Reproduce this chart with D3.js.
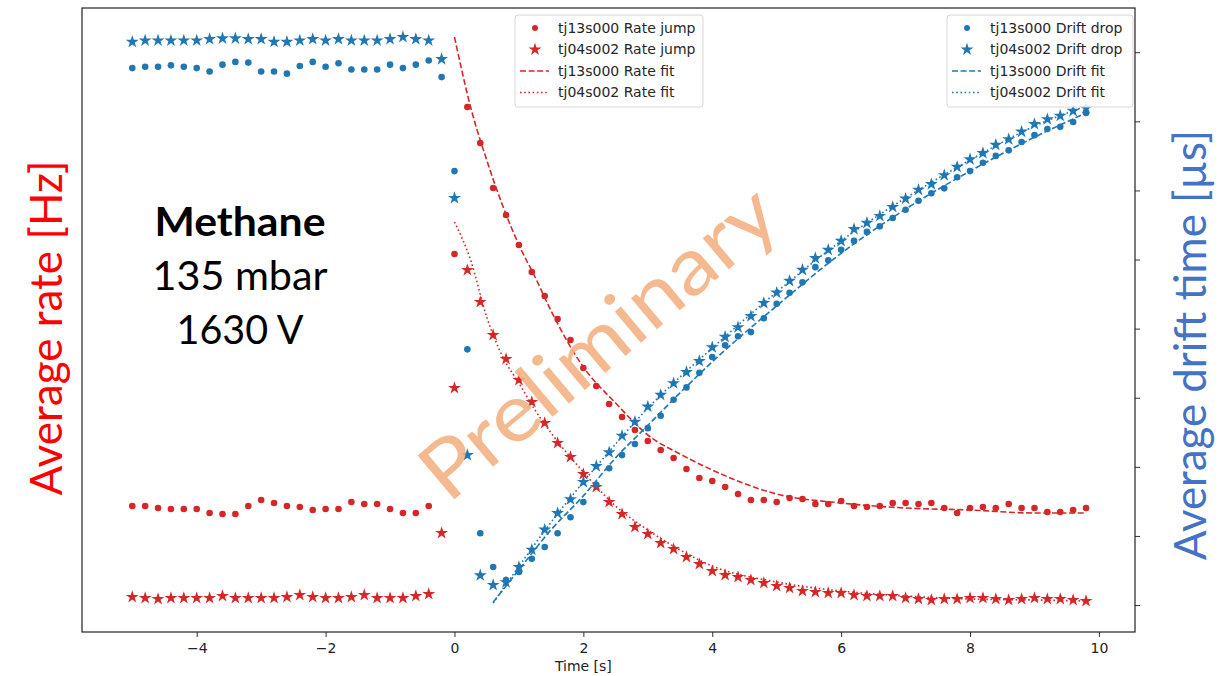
<!DOCTYPE html>
<html lang="en">
<head>
<meta charset="UTF-8">
<title>Rate jump and drift drop</title>
<script src="https://d3js.org/d3.v7.min.js"></script>
<style>
  body { margin: 0; background: #fff; }
  svg { display: block; }
  .axis text { font-family: "DejaVu Sans", sans-serif; font-size: 14px; fill: #222; }
  .legend text { font-family: "DejaVu Sans", sans-serif; font-size: 14px; fill: #262626; }
  .slide { font-family: Lato, "Open Sans", sans-serif; }
</style>
</head>
<body>
<svg id="chart" width="1227" height="676"></svg>
<script>
// frame times [s]
const time = [-5.0,-4.8,-4.6,-4.4,-4.2,-4.0,-3.8,-3.6,-3.4,-3.2,-3.0,-2.8,-2.6,-2.4,-2.2,-2.0,-1.8,-1.6,-1.4,-1.2,-1.0,-0.8,-0.6,-0.4,-0.2,
  0.0,0.2,0.4,0.6,0.8,1.0,1.2,1.4,1.6,1.8,2.0,2.2,2.4,2.6,2.8,3.0,3.2,3.4,3.6,3.8,4.0,4.2,4.4,4.6,4.8,
  5.0,5.2,5.4,5.6,5.8,6.0,6.2,6.4,6.6,6.8,7.0,7.2,7.4,7.6,7.8,8.0,8.2,8.4,8.6,8.8,9.0,9.2,9.4,9.6,9.8];

// average rate [Hz]
const rateTj13 = [12.6,12.6,12.4,12.3,12.3,12.3,11.9,11.8,11.8,12.6,13.2,12.9,12.6,12.5,12.2,12.3,12.3,13.0,12.8,12.8,12.3,11.9,11.9,12.6,null,
  37.8,52.5,48.9,44.4,41.7,38.7,36.0,33.6,31.3,29.2,26.4,24.6,22.8,21.5,20.2,19.1,18.2,17.4,16.3,15.4,15.1,14.5,13.8,13.2,13.2,
  13.0,13.4,13.3,12.8,12.8,13.1,12.6,12.5,12.6,12.9,12.9,12.8,12.9,12.4,11.9,12.4,12.5,12.4,12.8,12.4,12.4,12.0,12.0,12.2,12.4];
const rateTj04 = [3.5,3.4,3.3,3.4,3.4,3.4,3.4,3.6,3.4,3.4,3.4,3.4,3.5,3.7,3.5,3.4,3.4,3.5,3.7,3.4,3.4,3.4,3.6,3.8,9.9,
  24.4,36.2,33.0,29.7,27.3,25.2,23.0,20.9,18.9,17.5,15.8,14.5,13.0,11.8,10.5,9.8,8.9,8.3,7.5,6.8,6.1,5.7,5.5,5.2,4.9,
  4.6,4.4,4.1,4.0,3.9,3.9,3.7,3.6,3.6,3.6,3.4,3.3,3.2,3.3,3.3,3.4,3.4,3.3,3.2,3.3,3.4,3.3,3.3,3.2,3.1];

// average drift time [us]
const driftTj13 = [8.77,8.79,8.79,8.81,8.79,8.77,8.72,8.82,8.86,8.85,8.72,8.72,8.69,8.80,8.86,8.79,8.84,8.75,8.75,8.75,8.82,8.77,8.82,8.88,8.64,
  7.28,4.70,2.04,1.55,1.36,1.48,1.67,1.84,2.04,2.27,2.49,2.74,2.98,3.17,3.33,3.56,3.74,3.97,4.15,4.36,4.59,4.76,4.89,4.95,5.15,
  5.36,5.52,5.67,5.89,5.99,6.14,6.27,6.40,6.48,6.60,6.72,6.85,6.96,7.03,7.19,7.28,7.40,7.50,7.58,7.70,7.80,7.89,7.92,7.99,8.12];
const driftTj04 = [9.15,9.17,9.17,9.17,9.17,9.17,9.19,9.20,9.20,9.19,9.19,9.15,9.15,9.17,9.19,9.17,9.19,9.17,9.17,9.17,9.19,9.22,9.19,9.17,8.90,
  6.89,3.17,1.43,1.29,1.33,1.55,1.80,2.09,2.33,2.53,2.78,3.01,3.21,3.45,3.65,3.87,4.04,4.21,4.37,4.53,4.73,4.88,5.02,5.18,5.37,
  5.52,5.69,5.85,6.02,6.14,6.27,6.44,6.53,6.63,6.76,6.88,7.01,7.09,7.22,7.34,7.45,7.54,7.66,7.74,7.85,7.96,8.03,8.08,8.15,8.19];

// fitted curves
const rateFitTime = [0,0.25,0.5,0.75,1.0,1.25,1.5,2.0,2.5,3.0,3.5,4.0,5.0,6.0,7.0,8.0,9.0,9.8];
const rateFitTj13 = [59.5,52.5,47.2,42.6,38.7,35.5,32.1,26.5,22.9,19.7,17.8,16.2,13.8,12.9,12.4,12.2,11.9,11.9];
const rateFitTj04 = [41.0,37.2,31.5,27.5,24.9,22.2,19.9,16.0,12.6,10.2,8.2,6.6,5.0,4.1,3.6,3.3,3.2,3.1];

const driftFitTime = [0.6,1.0,1.5,2.0,2.5,3.0,3.5,4.0,5.0,6.0,7.0,8.0,9.0,9.8];
const driftFitTj13 = [1.04,1.51,2.09,2.58,3.13,3.60,4.07,4.52,5.33,6.09,6.73,7.28,7.77,8.12];
const driftFitTj04 = [1.03,1.56,2.20,2.78,3.33,3.85,4.30,4.72,5.53,6.27,6.89,7.44,7.93,8.22];

const xTicks = [-4,-2,0,2,4,6,8,10];
const driftTicks = [1,2,3,4,5,6,7,8,9];

const red = '#d62728', blue = '#1f77b4';

const svg = d3.select('#chart');
const plot = {left: 82, right: 1135, top: 8, bottom: 632};

const x = d3.scaleLinear().domain([-5.78, 10.56]).range([plot.left, plot.right]);
const yRate = d3.scaleLinear().domain([0, 62.4]).range([plot.bottom, plot.top]);
const yDrift = d3.scaleLinear().domain([0.61, 9.64]).range([plot.bottom, plot.top]);

// x axis
const xAxis = svg.append('g')
  .attr('class', 'axis')
  .attr('transform', `translate(0,${plot.bottom})`)
  .call(d3.axisBottom(x).tickValues(xTicks).tickSize(5).tickPadding(6));
xAxis.select('.domain').remove();
xAxis.selectAll('line').attr('stroke', '#333');

svg.append('text')
  .attr('x', x(2.0)).attr('y', 671)
  .attr('text-anchor', 'middle')
  .style('font-family', '"DejaVu Sans", sans-serif')
  .style('font-size', '14px').attr('fill', '#222')
  .text('Time [s]');

// right axis: ticks only, labels covered in the original
const rAxis = svg.append('g')
  .attr('class', 'axis')
  .attr('transform', `translate(${plot.right},0)`)
  .call(d3.axisRight(yDrift).tickValues(driftTicks).tickSize(5).tickFormat(''));
rAxis.select('.domain').remove();
rAxis.selectAll('line').attr('stroke', '#333');

// data layer
const g = svg.append('g');

const pts = (ys) => time.map((t, i) => ({t: t, v: ys[i]})).filter(d => d.v != null);

const lineRate = d3.line().x((d, i) => x(rateFitTime[i])).y(d => yRate(d)).curve(d3.curveMonotoneX);
const lineDrift = d3.line().x((d, i) => x(driftFitTime[i])).y(d => yDrift(d)).curve(d3.curveMonotoneX);

const star = d3.symbol().type(d3.symbolStar).size(52);

function drawDots(data, scale, color) {
  g.append('g').selectAll('circle')
    .data(data).join('circle')
      .attr('cx', d => x(d.t)).attr('cy', d => scale(d.v))
      .attr('r', 3.3).attr('fill', color);
}
function drawStars(data, scale, color) {
  g.append('g').selectAll('path')
    .data(data).join('path')
      .attr('d', star)
      .attr('transform', d => `translate(${x(d.t)},${scale(d.v)})`)
      .attr('fill', color);
}

drawDots(pts(rateTj13), yRate, red);
drawStars(pts(rateTj04), yRate, red);
g.append('path').datum(rateFitTj13).attr('d', lineRate)
  .attr('fill', 'none').attr('stroke', red).attr('stroke-width', 1.6).attr('stroke-dasharray', '6,2.6');
g.append('path').datum(rateFitTj04).attr('d', lineRate)
  .attr('fill', 'none').attr('stroke', red).attr('stroke-width', 1.6).attr('stroke-dasharray', '1.6,2.6');

drawDots(pts(driftTj13), yDrift, blue);
drawStars(pts(driftTj04), yDrift, blue);
g.append('path').datum(driftFitTj13).attr('d', lineDrift)
  .attr('fill', 'none').attr('stroke', blue).attr('stroke-width', 1.6).attr('stroke-dasharray', '6,2.6');
g.append('path').datum(driftFitTj04).attr('d', lineDrift)
  .attr('fill', 'none').attr('stroke', blue).attr('stroke-width', 1.6).attr('stroke-dasharray', '1.6,2.6');

// frame
svg.append('rect')
  .attr('x', plot.left).attr('y', plot.top)
  .attr('width', plot.right - plot.left).attr('height', plot.bottom - plot.top)
  .attr('fill', 'none').attr('stroke', '#222').attr('stroke-width', 1.2);

// legends
function legend(x0, y0, w, items) {
  const lg = svg.append('g').attr('class', 'legend').attr('transform', `translate(${x0},${y0})`);
  lg.append('rect').attr('width', w).attr('height', 92).attr('rx', 3)
    .attr('fill', 'white').attr('fill-opacity', 0.85).attr('stroke', '#d6d6d6');
  items.forEach((it, i) => {
    const cy = 13 + i * 21.5;
    if (it.kind === 'dot') {
      lg.append('circle').attr('cx', 20).attr('cy', cy).attr('r', 3).attr('fill', it.color);
    } else if (it.kind === 'star') {
      lg.append('path').attr('d', star).attr('transform', `translate(20,${cy})`).attr('fill', it.color);
    } else {
      lg.append('line').attr('x1', 5).attr('x2', 34).attr('y1', cy).attr('y2', cy)
        .attr('stroke', it.color).attr('stroke-width', 1.6)
        .attr('stroke-dasharray', it.kind === 'dash' ? '6,2.6' : '1.6,2.6');
    }
    lg.append('text').attr('x', 43).attr('y', cy).attr('dy', '0.35em').text(it.label);
  });
}
legend(515, 15, 188, [
  {kind: 'dot', color: red, label: 'tj13s000 Rate jump'},
  {kind: 'star', color: red, label: 'tj04s002 Rate jump'},
  {kind: 'dash', color: red, label: 'tj13s000 Rate fit'},
  {kind: 'dotted', color: red, label: 'tj04s002 Rate fit'}
]);
legend(947, 15, 186, [
  {kind: 'dot', color: blue, label: 'tj13s000 Drift drop'},
  {kind: 'star', color: blue, label: 'tj04s002 Drift drop'},
  {kind: 'dash', color: blue, label: 'tj13s000 Drift fit'},
  {kind: 'dotted', color: blue, label: 'tj04s002 Drift fit'}
]);

// slide annotations
const slide = svg.append('g').attr('class', 'slide');
slide.append('text')
  .attr('transform', 'translate(596,340) rotate(-40)')
  .attr('text-anchor', 'middle').attr('dominant-baseline', 'central')
  .attr('font-size', 80).attr('fill', '#f4b183').attr('fill-opacity', 0.9)
  .attr('textLength', 438).attr('lengthAdjust', 'spacingAndGlyphs')
  .text('Preliminary');

slide.append('text')
  .attr('transform', 'translate(62,328) rotate(-90)')
  .attr('text-anchor', 'middle')
  .attr('font-size', 44).attr('fill', '#ff0000')
  .attr('textLength', 335).attr('lengthAdjust', 'spacingAndGlyphs')
  .text('Average rate [Hz]');

slide.append('text')
  .attr('transform', 'translate(1206,345) rotate(-90)')
  .attr('text-anchor', 'middle')
  .attr('font-size', 44).attr('fill', '#4472c4')
  .attr('textLength', 430).attr('lengthAdjust', 'spacingAndGlyphs')
  .text('Average drift time [µs]');

const notes = [
  {text: 'Methane', y: 236, w: 171, bold: true},
  {text: '135 mbar', y: 290, w: 175, bold: false},
  {text: '1630 V', y: 344, w: 127, bold: false}
];
slide.selectAll('text.note')
  .data(notes).join('text')
    .attr('class', 'note')
    .attr('x', 240).attr('y', d => d.y)
    .attr('text-anchor', 'middle')
    .attr('font-size', 40)
    .attr('font-weight', d => d.bold ? 'bold' : 'normal')
    .attr('fill', '#000')
    .attr('textLength', d => d.w).attr('lengthAdjust', 'spacingAndGlyphs')
    .text(d => d.text);
</script>
</body>
</html>
